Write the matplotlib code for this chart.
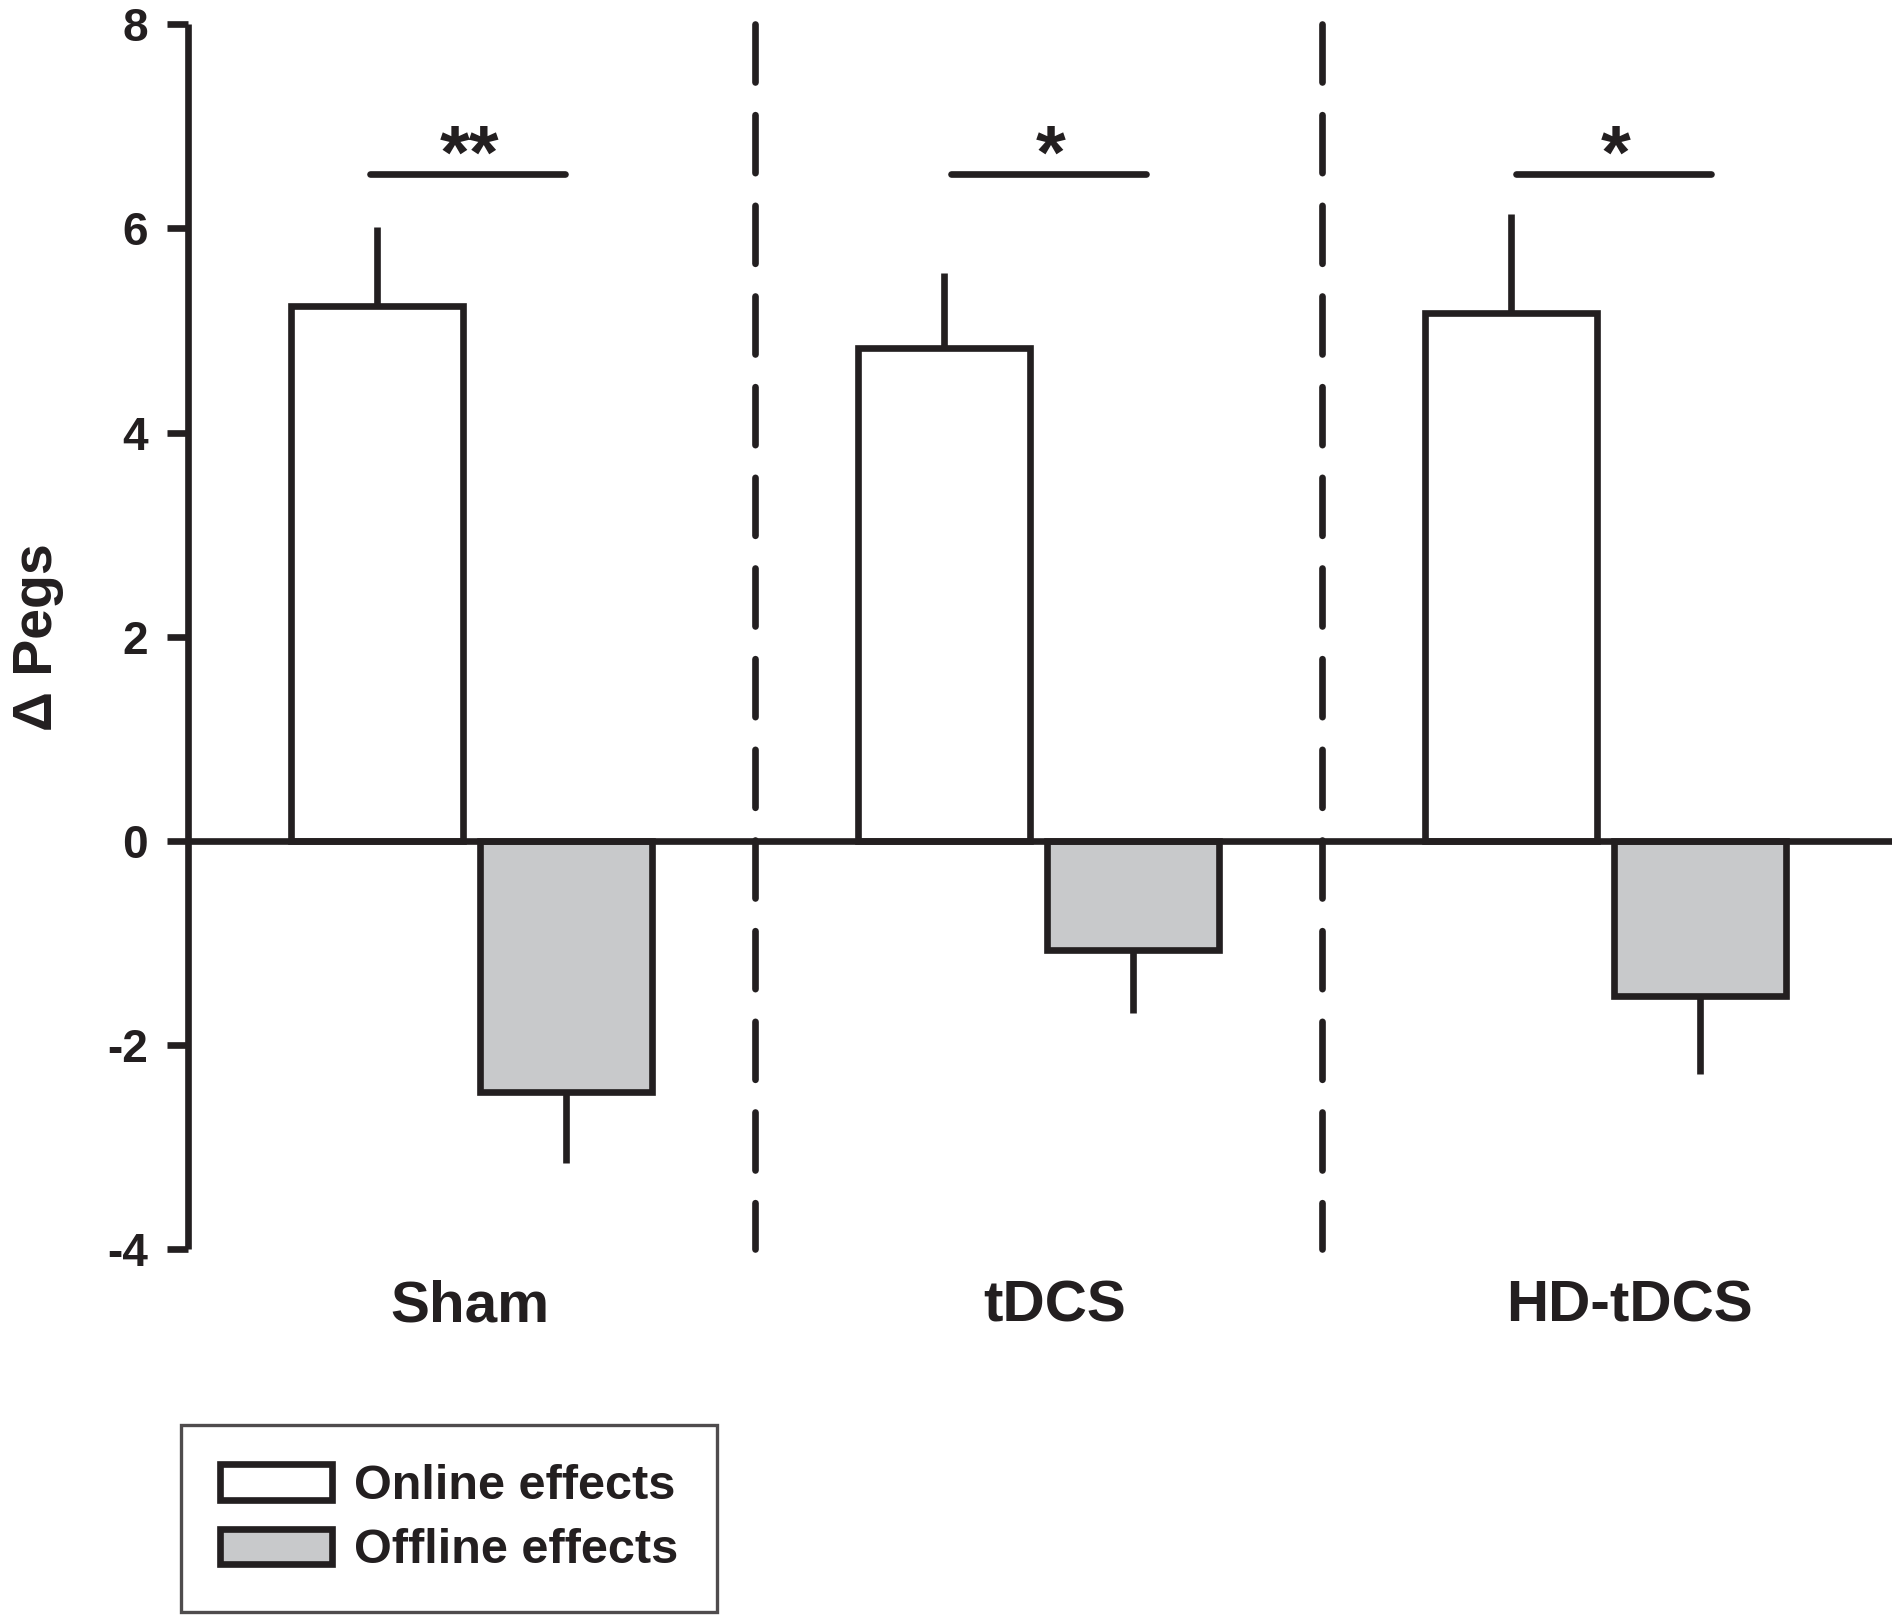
import numpy as np
import matplotlib
matplotlib.use('Agg')
import matplotlib.pyplot as plt
from matplotlib.patches import Patch

plt.rcParams['font.family'] = ['Liberation Sans', 'DejaVu Sans']
plt.rcParams['font.weight'] = 'bold'
plt.rcParams['axes.unicode_minus'] = False

ink = '#231f20'
gray = '#c8c9cb'

groups = ['Sham', 'tDCS', 'HD-tDCS']
online = [5.24, 4.83, 5.17]
online_err = [0.77, 0.73, 0.97]
offline = [-2.46, -1.07, -1.52]
offline_err = [0.70, 0.62, 0.77]
sig_y = [6.53, 6.53, 6.53]
sig_marks = ['**', '*', '*']

lw = 4.8

fig = plt.figure(figsize=(19, 16.2), dpi=100)
ax = fig.add_axes([0.0989, 0.229, 0.8971, 0.756])

x = np.arange(len(groups))
w = 0.303
x_on = x + 1/3
x_off = x + 2/3

ax.bar(x_on, online, w, color='white', edgecolor=ink, linewidth=lw, zorder=3)
ax.bar(x_off, offline, w, color=gray, edgecolor=ink, linewidth=lw, zorder=3)
ax.errorbar(x_on, online, yerr=[np.zeros(3), online_err], fmt='none',
            ecolor=ink, elinewidth=lw, capsize=0, zorder=2)
ax.errorbar(x_off, offline, yerr=[offline_err, np.zeros(3)], fmt='none',
            ecolor=ink, elinewidth=lw, capsize=0, zorder=2)

ax.axhline(0, color=ink, linewidth=lw, zorder=4)

# group separators
for xs in [1, 2]:
    ax.plot([xs, xs], [8, -4.0], color=ink, linewidth=lw, dashes=(8.7, 4.9),
            dash_capstyle='round', clip_on=False, zorder=1)

# significance bars (small horizontal shift per group as in the original)
shift = [0.0, 0.025, 0.021]
for i in range(len(groups)):
    ax.plot([x[i] + 0.321 + shift[i], x[i] + 0.665 + shift[i]], [sig_y[i], sig_y[i]],
            color=ink, linewidth=lw, solid_capstyle='round', zorder=3)
    ax.text(x[i] + 0.496 + shift[i], sig_y[i] - 0.03, sig_marks[i], ha='center',
            va='baseline', fontsize=55, fontweight='bold', color=ink)

ax.set_xlim(0, 3.006)
ax.set_ylim(-4, 8)
ax.set_yticks(np.arange(-4, 9, 2))
ax.set_xticks(x + np.array([0.498, 0.528, 0.543]))
ax.set_xticklabels(groups, fontsize=42, fontweight='bold', color=ink)
ax.tick_params(axis='x', length=0, pad=22)
ax.tick_params(axis='y', direction='out', length=15, width=lw, color=ink,
               labelsize=33, labelcolor=ink, pad=14)
for lab in ax.get_yticklabels():
    lab.set_fontweight('bold')

for s in ['top', 'right', 'bottom']:
    ax.spines[s].set_visible(False)
ax.spines['left'].set_linewidth(lw)
ax.spines['left'].set_color(ink)
ax.spines['left'].set_capstyle('butt')

ax.set_ylabel('Δ Pegs', fontsize=40, fontweight='bold', color=ink, labelpad=31)

handles = [Patch(facecolor='white', edgecolor=ink, linewidth=lw),
           Patch(facecolor=gray, edgecolor=ink, linewidth=lw)]
leg = fig.legend(handles, ['Online effects', 'Offline effects'], loc='center',
                 bbox_to_anchor=(0.2363, 0.0625), fontsize=35, frameon=True,
                 fancybox=False, edgecolor=ink, handlelength=2.3, handleheight=0.75,
                 handletextpad=0.45, labelspacing=0.4, borderpad=0.8,
                 borderaxespad=0)
leg.get_frame().set_linewidth(2.4)
for t in leg.get_texts():
    t.set_color(ink)
    t.set_fontweight('bold')

fig.savefig('out.png', dpi=100, facecolor='white')
